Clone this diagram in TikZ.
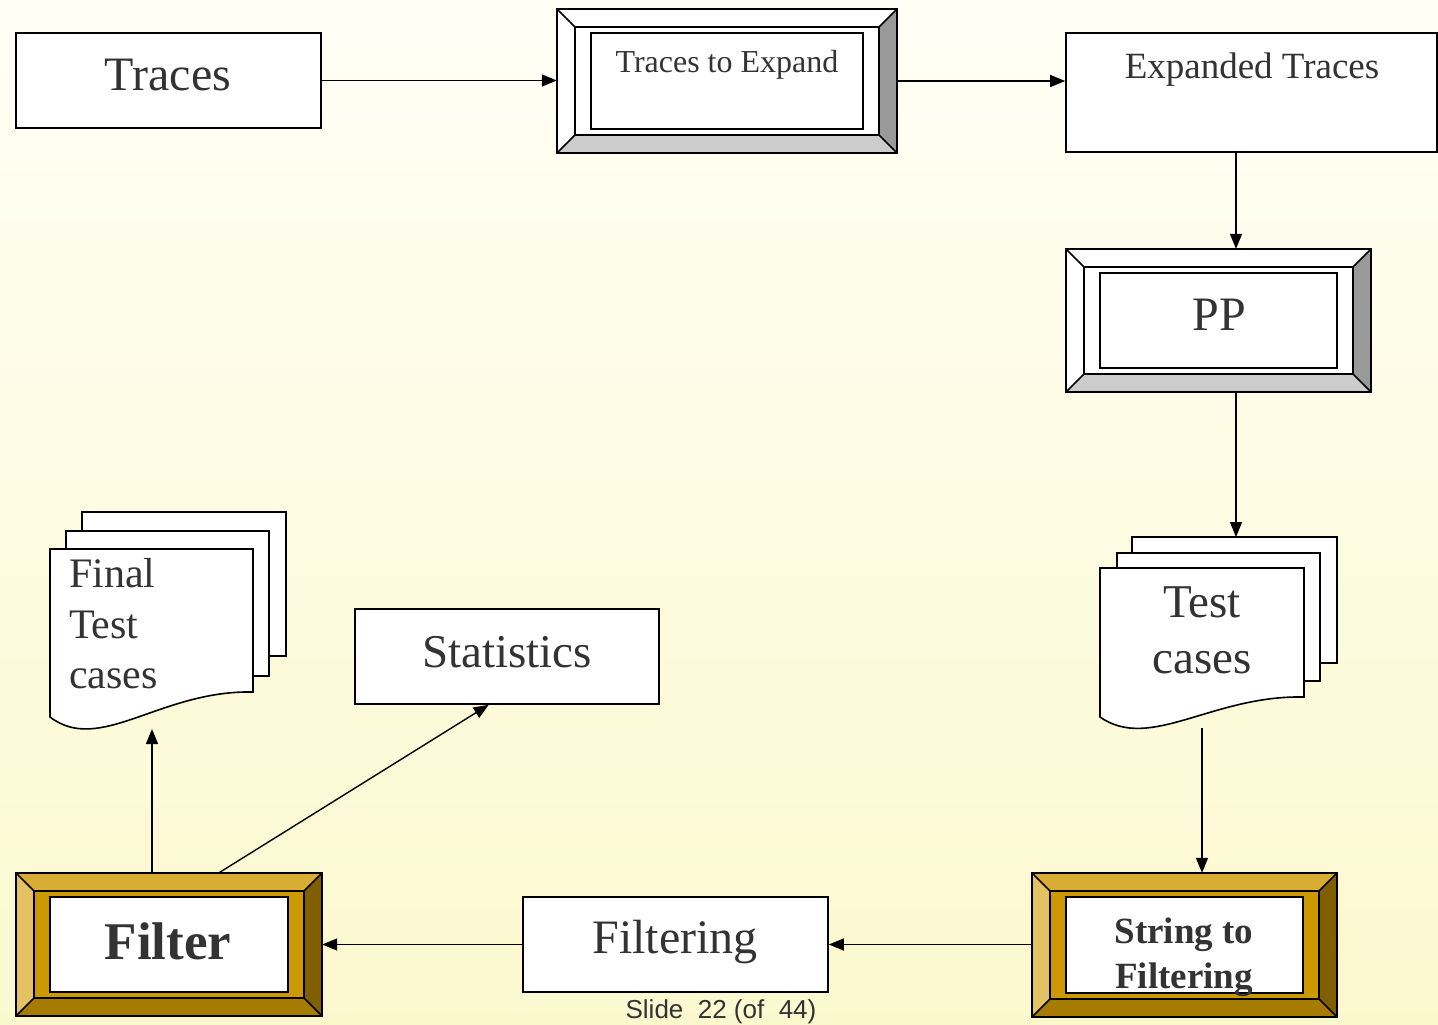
\documentclass[tikz,border=0pt]{standalone}
\usepackage{fontspec}
\setmainfont{Liberation Serif}
\newfontfamily\slidefont{Liberation Sans}
\usetikzlibrary{arrows.meta,calc}
\definecolor{txt}{HTML}{333333}
\definecolor{bgtop}{HTML}{FFFFF6}
\definecolor{bgbot}{HTML}{FCF8CE}
\newcommand\fs[1]{\fontsize{#1}{#1}\selectfont}
\newcommand\bevelbox[5]{%
  \fill[bvM] (#2+18,#3+18) rectangle (#4-18,#5-18);
  \fill[bvT] (#2,#3) -- (#4,#3) -- (#4-18,#3+18) -- (#2+18,#3+18) -- cycle;
  \fill[bvB] (#2,#5) -- (#4,#5) -- (#4-18,#5-18) -- (#2+18,#5-18) -- cycle;
  \fill[bvL] (#2,#3) -- (#2+18,#3+18) -- (#2+18,#5-18) -- (#2,#5) -- cycle;
  \fill[bvR] (#4,#3) -- (#4-18,#3+18) -- (#4-18,#5-18) -- (#4,#5) -- cycle;
  \draw[boxline] (#2,#3) rectangle (#4,#5);
  \draw[boxline] (#2+18,#3+18) rectangle (#4-18,#5-18);
  \draw[boxline] (#2,#3) -- (#2+18,#3+18) (#4,#3) -- (#4-18,#3+18) (#2,#5) -- (#2+18,#5-18) (#4,#5) -- (#4-18,#5-18);
  \draw[boxline,fill=white] (#2+34,#3+24) rectangle (#4-34,#5-24);
  \node[inner sep=0,minimum width={#4pt-#2pt},minimum height={#5pt-#3pt}] (#1) at ({(#2+#4)/2},{(#3+#5)/2}) {};
}
\begin{document}
\begin{tikzpicture}[x=1pt,y=-1pt,
  boxline/.style={draw=black,line width=1.6pt,line join=miter},
  plainbox/.style={boxline,fill=white,inner sep=0},
  page/.style={boxline,fill=white},
  lbl/.style={text=txt,inner sep=0,anchor=base},
  conn/.style={draw=black,line width=1.4pt,-{Triangle[length=15pt,width=12pt]}}]
\shade[top color=bgtop,bottom color=bgbot] (0,0) rectangle (1438,1025);
\useasboundingbox (0,0) rectangle (1438,1025);

% plain boxes
\node[plainbox,minimum width=305pt,minimum height=95pt] (traces) at (168.5,80.5) {};
\node[plainbox,minimum width=371pt,minimum height=119pt] (exp) at (1251.5,92.5) {};
\node[plainbox,minimum width=304pt,minimum height=95pt] (stats) at (507,656.5) {};
\node[plainbox,minimum width=305pt,minimum height=95pt] (filtering) at (675.5,944.5) {};

% grey bevel boxes
\colorlet{bvT}{white}\colorlet{bvL}{white}\colorlet{bvM}{white}
\definecolor{bvR}{HTML}{999999}\definecolor{bvB}{HTML}{CCCCCC}
\bevelbox{tte}{557}{9}{897}{153}
\bevelbox{pp}{1066}{249}{1371}{392}

% gold bevel boxes
\definecolor{bvT}{HTML}{D9AC33}\definecolor{bvL}{HTML}{E2C262}
\definecolor{bvR}{HTML}{7F5F00}\definecolor{bvB}{HTML}{A67C00}
\definecolor{bvM}{HTML}{CC9900}
\bevelbox{filter}{16}{873}{322}{1016}
\bevelbox{stf}{1032}{873}{1337}{1017}

% document stacks
\draw[page] (82,512) rectangle (286,656);
\draw[page] (66,531) rectangle (269,676);
\draw[page] (50,549) -- (253,549) -- (253,692) .. controls (160,690) and (100,755) .. (50,717) -- cycle;
\node[inner sep=0,minimum width=203pt,minimum height=180pt] (ftc) at (151.5,639) {};
\coordinate (ftcBot) at (152,729);

\draw[page] (1132,537) rectangle (1337,663);
\draw[page] (1117,553) rectangle (1320,681);
\draw[page] (1100,568) -- (1304,568) -- (1304,697) .. controls (1212,695) and (1150,752) .. (1100,717) -- cycle;
\node[inner sep=0,minimum width=204pt,minimum height=160pt] (tc) at (1202,648) {};
\coordinate (tcTop) at (1236,537);
\coordinate (tcBot) at (1202,728);

% labels
\node[lbl] at (168,90) {\fs{48}Traces};
\node[lbl] at (727,73) {\fs{32}Traces to Expand};
\node[lbl] at (1252,78) {\fs{37}Expanded Traces};
\node[lbl] at (1219,330) {\fs{48}PP};
\node[lbl] at (1202,617) {\fs{47}Test};
\node[lbl] at (1202,673) {\fs{47}cases};
\node[lbl,anchor=base west] at (69,587) {\fs{42}Final};
\node[lbl,anchor=base west] at (69,638) {\fs{42}Test};
\node[lbl,anchor=base west] at (69,688) {\fs{42}cases};
\node[lbl] at (507,667) {\fs{47}Statistics};
\node[lbl] at (168,959) {\fs{53}\bfseries Filter};
\node[lbl] at (1184,943) {\fs{37}\bfseries String to};
\node[lbl] at (1184,988) {\fs{37}\bfseries Filtering};
\node[lbl] at (675,953) {\fs{48}Filtering};
\node[lbl] (slide) at (721,1018) {\fs{26}\slidefont Slide\ \ 22 (of\ \ 44)};

% connectors
\draw[conn] (traces.east) -- (traces.east -| tte.west);
\draw[conn] (tte.east) -- (tte.east -| exp.west);
\draw[conn] (exp.south -| tcTop) -- (pp.north -| tcTop);
\draw[conn] (pp.south -| tcTop) -- (tcTop);
\draw[conn] (tcBot) -- (tcBot |- stf.north);
\draw[conn] (stf.west |- filtering.east) -- (filtering.east);
\draw[conn] (filtering.west) -- (filter.east);
\draw[conn] (filter.north -| ftcBot) -- (ftcBot);
\draw[conn] ($(filter.north west)!0.663!(filter.north east)$) -- ($(stats.south west)!0.44!(stats.south east)$);
\end{tikzpicture}
\end{document}
